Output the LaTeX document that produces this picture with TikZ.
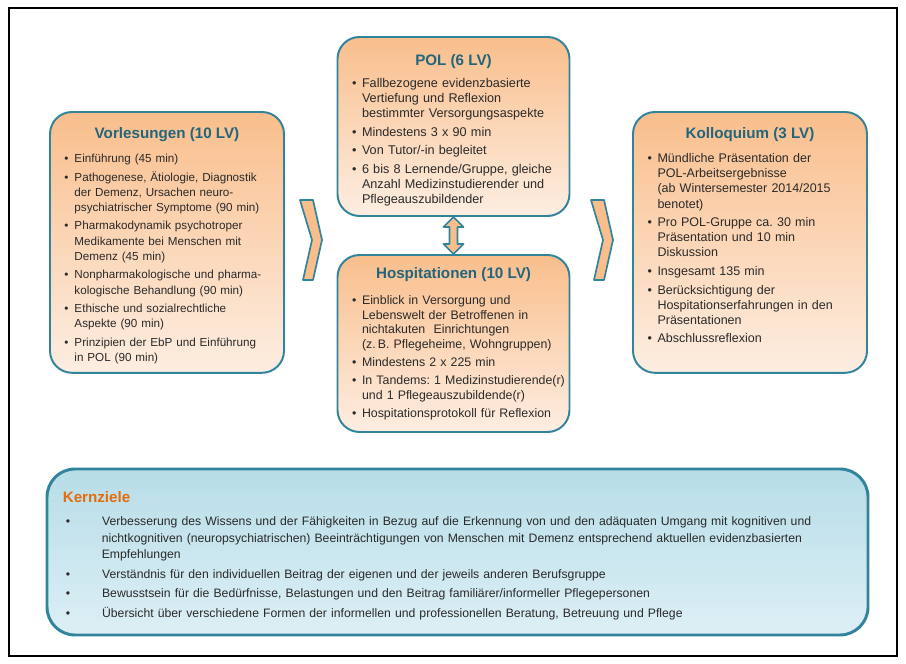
\documentclass[tikz,border=0pt]{standalone}
\usepackage{fontspec}
\setmainfont{Liberation Sans}
\usepackage{enumitem}
\usetikzlibrary{positioning,calc}

\definecolor{boxline}{HTML}{31849B}
\definecolor{titleteal}{HTML}{23657A}
\definecolor{peachtop}{HTML}{F9BE8C}
\definecolor{peachbot}{HTML}{FDEEE2}
\definecolor{bluetop}{HTML}{B7DDE8}
\definecolor{bluebot}{HTML}{DDEFF5}
\definecolor{goaltitle}{HTML}{E46C0A}
\definecolor{textgray}{HTML}{2A2A2A}

\frenchspacing
\setlist[itemize]{label={\textbullet}, align=left, labelindent=0pt,
    labelwidth=0.12cm, labelsep=0.13cm, leftmargin=0.25cm,
    itemsep=2.4pt, topsep=0pt, parsep=0pt, partopsep=0pt}

\begin{document}
\begin{tikzpicture}[
        lvbox/.style={draw=boxline, line width=1.4pt, rounded corners=0.55cm,
            top color=peachtop, bottom color=peachbot},
        goalbox/.style={draw=boxline, line width=2.1pt, rounded corners=0.7cm,
            top color=bluetop, bottom color=bluebot},
        boxtitle/.style={inner sep=0pt, text=titleteal,
            font=\fontsize{10.8}{13}\selectfont\bfseries},
        items/.style={anchor=north west, inner sep=0pt, text width=6cm, align=left,
            text=textgray, font=\fontsize{#1}{10.8}\selectfont},
        items/.default=8.3,
        chevron/.style={draw=boxline, line width=1.2pt, fill=peachtop, line join=round},
        dblarrow/.style={draw=boxline, line width=1.2pt, fill=peachtop, line join=round}
    ]
    \useasboundingbox (0,0) rectangle (22.65,16.6);
    \draw[line width=1.3pt] (0.225,0.2) rectangle (22.425,16.4);

    % Boxes
    \node[lvbox, minimum width=5.85cm, minimum height=6.52cm] (vorl) at (4.175,10.54) {};
    \node[lvbox, minimum width=5.8cm, minimum height=4.475cm] (pol) at (11.3375,13.4375) {};
    \node[lvbox, minimum width=5.8cm, minimum height=4.425cm] (hosp) at (11.3375,8.0125) {};
    \node[lvbox, minimum width=5.85cm, minimum height=6.52cm] (koll) at (18.75,10.54) {};
    \node[goalbox, minimum width=20.525cm, minimum height=4.15cm] (kern) at (11.4375,2.8) {};

    % Titles
    \node[boxtitle] (vorltitle) at ([yshift=-0.6cm]vorl.north) {Vorlesungen (10 LV)};
    \node[boxtitle] (poltitle) at ([yshift=-0.65cm]pol.north) {POL (6 LV)};
    \node[boxtitle] (hosptitle) at ([yshift=-0.525cm]hosp.north) {Hospitationen (10 LV)};
    \node[boxtitle] (kolltitle) at ([yshift=-0.6cm]koll.north) {Kolloquium (3 LV)};
    \node[boxtitle, anchor=west, text=goaltitle] (kerntitle) at ([shift={(0.425,-0.75)}]kern.north west) {Kernziele};

    % Lists
    \node[items] (vorllist) at ([shift={(0.38,-0.9)}]vorl.north west) {%
        \begin{itemize}
            \item Einführung (45 min)
            \item Pathogenese, Ätiologie, Diagnostik\newline der Demenz, Ursachen neuro-\newline psychiatrischer Symptome (90 min)
            \item Pharmakodynamik psychotroper\newline Medikamente bei Menschen mit\newline Demenz (45 min)
            \item Nonpharmakologische und pharma-\newline kologische Behandlung (90 min)
            \item Ethische und sozialrechtliche\newline Aspekte (90 min)
            \item Prinzipien der EbP und Einführung\newline in POL (90 min)
        \end{itemize}};
    \node[items=9] (pollist) at ([shift={(0.38,-0.9)}]pol.north west) {%
        \begin{itemize}
            \item Fallbezogene evidenzbasierte\newline Vertiefung und Reflexion\newline bestimmter Versorgungsaspekte
            \item Mindestens 3 x 90 min
            \item Von Tutor/-in begleitet
            \item 6 bis 8 Lernende/Gruppe, gleiche\newline Anzahl Medizinstudierender und\newline Pflegeauszubildender
        \end{itemize}};
    \node[items, font=\fontsize{8.8}{10.5}\selectfont] (hosplist) at ([shift={(0.38,-0.88)}]hosp.north west) {%
        \begin{itemize}
            \item Einblick in Versorgung und\newline Lebenswelt der Betroffenen in\newline nichtakuten\ \ Einrichtungen\newline (z.\,B. Pflegeheime, Wohngruppen)
            \item Mindestens 2 x 225 min
            \item In Tandems: 1 Medizinstudierende(r)\newline und 1 Pflegeauszubildende(r)
            \item Hospitationsprotokoll für Reflexion
        \end{itemize}};
    \node[items=8.9] (kolllist) at ([shift={(0.38,-0.9)}]koll.north west) {%
        \begin{itemize}
            \item Mündliche Präsentation der\newline POL-Arbeitsergebnisse\newline (ab Wintersemester 2014/2015\newline benotet)
            \item Pro POL-Gruppe ca. 30 min\newline Präsentation und 10 min\newline Diskussion
            \item Insgesamt 135 min
            \item Berücksichtigung der\newline Hospitationserfahrungen in den\newline Präsentationen
            \item Abschlussreflexion
        \end{itemize}};
    \node[items, text width=19.5cm, font=\fontsize{8.7}{11.5}\selectfont] (kernlist) at ([shift={(0.5,-1.05)}]kern.north west) {%
        \begin{itemize}[labelwidth=0.1cm, labelsep=0.8cm, leftmargin=0.9cm, itemsep=2.6pt]
            \item Verbesserung des Wissens und der Fähigkeiten in Bezug auf die Erkennung von und den adäquaten Umgang mit kognitiven und\newline nichtkognitiven (neuropsychiatrischen) Beeinträchtigungen von Menschen mit Demenz entsprechend aktuellen evidenzbasierten\newline Empfehlungen
            \item Verständnis für den individuellen Beitrag der eigenen und der jeweils anderen Berufsgruppe
            \item Bewusstsein für die Bedürfnisse, Belastungen und den Beitrag familiärer/informeller Pflegepersonen
            \item Übersicht über verschiedene Formen der informellen und professionellen Beratung, Betreuung und Pflege
        \end{itemize}};

    % Connectors
    \coordinate (chevl) at (7.5,11.6);
    \coordinate (chevr) at (14.775,11.6);
    \foreach \c in {chevl,chevr}
        \draw[chevron] (\c) -- ++(0.325,0) -- ++(0.225,-1) -- ++(-0.225,-1)
            -- ++(-0.25,0) -- ++(0.225,1) -- cycle;
    \draw[dblarrow] (pol.south) -- ++(0.25,-0.25) -- ++(-0.15,0)
        -- ($(hosp.north)+(0.1,0.25)$) -- ++(0.15,0) -- (hosp.north)
        -- ++(-0.25,0.25) -- ++(0.15,0) -- ($(pol.south)+(-0.1,-0.25)$)
        -- ++(-0.15,0) -- cycle;
\end{tikzpicture}
\end{document}
